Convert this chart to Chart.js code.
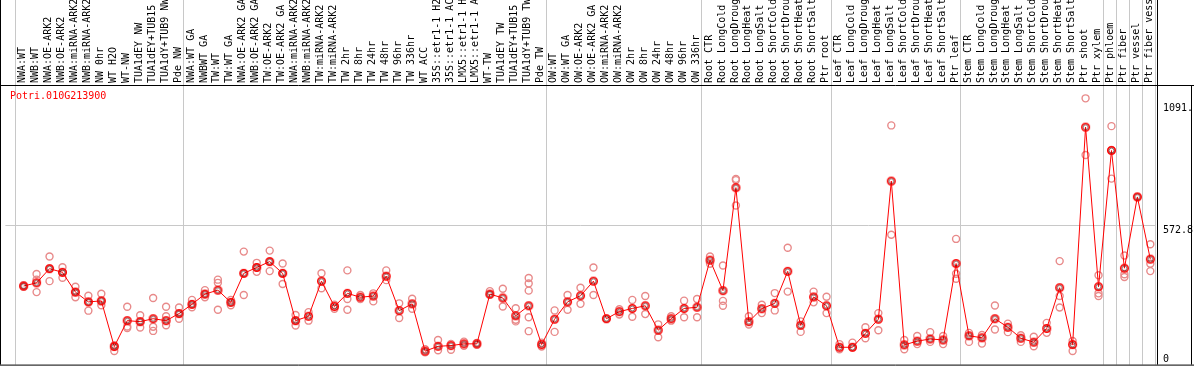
<!DOCTYPE html>
<html>
<head>
<meta charset="utf-8">
<script src="https://cdn.jsdelivr.net/npm/chart.js@4.4.0/dist/chart.umd.min.js"></script>
<style>
  html, body { margin: 0; padding: 0; background: #fff; }
</style>
</head>
<body>
<canvas id="exprChart" width="1194" height="370"></canvas>
<script>
const geneName = "Potri.010G213900";

const categories = [
  "NWA:WT", "NWB:WT", "NWA:OE-ARK2", "NWB:OE-ARK2", "NWA:miRNA-ARK2", "NWB:miRNA-ARK2",
  "NW 0hr", "WT H2O", "WT-NW", "TUA1dEY NW", "TUA1dEY+TUB15 NW", "TUA1dY+TUB9 NW", "Pde NW",
  "NWA:WT GA", "NWBWT GA", "TW:WT", "TW:WT GA", "NWA:OE-ARK2 GA", "NWB:OE-ARK2 GA",
  "TW:OE-ARK2", "TW:OE-ARK2 GA", "NWA:miRNA-ARK2", "NWB:miRNA-ARK2", "TW:miRNA-ARK2",
  "TW:miRNA-ARK2", "TW 2hr", "TW 8hr", "TW 24hr", "TW 48hr", "TW 96hr", "TW 336hr",
  "WT ACC", "35S::etr1-1 H2O", "35S::etr1-1 ACC", "LMX5::etr1-1 H2O", "LMX5::etr1-1 ACC",
  "WT-TW", "TUA1dEY TW", "TUA1dEY+TUB15 TW", "TUA1dY+TUB9 TW", "Pde TW",
  "OW:WT", "OW:WT GA", "OW:OE-ARK2", "OW:OE-ARK2 GA", "OW:miRNA-ARK2", "OW:miRNA-ARK2",
  "OW 2hr", "OW 8hr", "OW 24hr", "OW 48hr", "OW 96hr", "OW 336hr",
  "Root CTR", "Root LongCold", "Root LongDrought", "Root LongHeat", "Root LongSalt",
  "Root ShortCold", "Root ShortDrought", "Root ShortHeat", "Root ShortSalt", "Ptr root",
  "Leaf CTR", "Leaf LongCold", "Leaf LongDrought", "Leaf LongHeat", "Leaf LongSalt",
  "Leaf ShortCold", "Leaf ShortDrought", "Leaf ShortHeat", "Leaf ShortSalt", "Ptr leaf",
  "Stem CTR", "Stem LongCold", "Stem LongDrought", "Stem LongHeat", "Stem LongSalt",
  "Stem ShortCold", "Stem ShortDrought", "Stem ShortHeat", "Stem ShortSalt", "Ptr shoot",
  "Ptr xylem", "Ptr phloem", "Ptr fiber", "Ptr vessel", "Ptr fiber vessel"
];

// mean expression per sample (red line)
const meanValues = [
  322, 335, 393, 378, 297, 257, 261, 74, 180, 176,
  188, 180, 209, 247, 289, 305, 255, 374, 398, 422,
  374, 180, 198, 342, 238, 292, 276, 281, 362, 221,
  249, 55, 75, 78, 85, 85, 289, 273, 200, 241,
  82, 186, 257, 282, 342, 188, 217, 230, 241, 141,
  188, 230, 235, 428, 303, 725, 176, 229, 251, 382,
  161, 277, 241, 71, 71, 128, 186, 752, 81, 96,
  105, 101, 414, 118, 110, 188, 153, 108, 92, 148,
  315, 82, 973, 319, 877, 395, 687, 432
];

// single replicates per sample (pink circles)
const replicateValues = [
  [325, 319, 321], [371, 348, 297], [443, 393, 342], [399, 356, 378], [319, 276, 297],
  [282, 257, 221], [290, 261, 243], [74, 56, 79], [237, 150, 156], [202, 152, 176],
  [273, 155, 138], [237, 198, 161], [234, 188, 209], [265, 235, 247], [305, 276, 289],
  [348, 335, 225], [265, 243, 255], [463, 285, 374], [417, 380, 398], [467, 383, 422],
  [414, 330, 374], [203, 160, 180], [215, 180], [374, 313], [245, 229],
  [386, 269, 225], [285, 269], [292, 259], [386, 346], [251, 191],
  [270, 229], [63, 50], [101, 59], [85, 61], [94, 77],
  [89, 81], [301, 286], [311, 238], [231, 184, 177], [355, 332, 303, 194, 137],
  [90, 74], [222, 134], [285, 225], [315, 249], [398, 285],
  [188], [227, 205], [265, 196], [281, 207], [165, 112],
  [198, 180], [262, 194], [269, 194], [443, 413], [406, 261, 241],
  [761, 652, 756], [198, 164], [245, 211], [293, 222], [479, 299],
  [177, 134], [299, 255], [278, 211], [84, 63], [90, 71],
  [153, 108], [211, 141], [980, 532], [101, 63], [117, 84],
  [133, 93], [117, 84], [515, 372, 352], [130, 93], [121, 86],
  [242, 144], [168, 133], [120, 93], [114, 75], [171, 130],
  [424, 281, 234], [97, 56], [1091, 859], [366, 292, 281], [977, 762, 879],
  [447, 370, 359], [687], [493, 413, 383]
];

// first sample index of each group (gray separators)
const groupStarts = [0, 13, 41, 53, 63, 73, 84, 85, 86, 87, 88];

const yMax = 1145.6;
const yGridValue = 572.8;
const yTickValues = [1091, 572.8, 0];
const yTickLabels = ["1091.", "572.8", "0"];

const FONT = "10px 'DejaVu Sans Mono', 'Liberation Mono', monospace";

const meanPoints = meanValues.map((v, i) => ({ x: i, y: v }));
const replicatePoints = [];
replicateValues.forEach((reps, i) => {
  reps.forEach((v) => replicatePoints.push({ x: i, y: v }));
});

// red ring with a dark inner ring for the mean markers
function makeMeanMarker() {
  const c = document.createElement("canvas");
  c.width = 11;
  c.height = 11;
  const g = c.getContext("2d");
  g.lineWidth = 1.5;
  g.strokeStyle = "#ff0000";
  g.beginPath();
  g.arc(5.5, 5.5, 3.8, 0, Math.PI * 2);
  g.stroke();
  g.lineWidth = 0.9;
  g.strokeStyle = "rgba(60,0,0,0.7)";
  g.beginPath();
  g.arc(5.5, 5.5, 2.5, 0, Math.PI * 2);
  g.stroke();
  return c;
}

const framePlugin = {
  id: "framePlugin",
  beforeDatasetsDraw(chart) {
    const ctx = chart.ctx;
    const xs = chart.scales.x;
    const ys = chart.scales.y;
    const area = chart.chartArea;
    ctx.save();
    ctx.strokeStyle = "#c8c8c8";
    ctx.lineWidth = 1;
    groupStarts.forEach((k) => {
      const px = Math.round(xs.getPixelForValue(k - 0.66)) + 0.5;
      ctx.beginPath();
      ctx.moveTo(px, 0);
      ctx.lineTo(px, area.bottom);
      ctx.stroke();
    });
    const gy = Math.round(ys.getPixelForValue(yGridValue)) + 0.5;
    ctx.beginPath();
    ctx.moveTo(area.left, gy);
    ctx.lineTo(area.right, gy);
    ctx.stroke();
    ctx.restore();
  },
  afterDraw(chart) {
    const ctx = chart.ctx;
    const xs = chart.scales.x;
    const ys = chart.scales.y;
    const area = chart.chartArea;
    const W = chart.width;
    ctx.save();

    // black frame lines
    ctx.strokeStyle = "#000";
    ctx.lineWidth = 1;
    ctx.beginPath();
    ctx.moveTo(0, area.top + 0.5);
    ctx.lineTo(W, area.top + 0.5);
    ctx.moveTo(0, area.bottom + 0.5);
    ctx.lineTo(W, area.bottom + 0.5);
    ctx.moveTo(0.5, 0);
    ctx.lineTo(0.5, area.bottom);
    ctx.moveTo(Math.round(area.right) + 1.5, 0);
    ctx.lineTo(Math.round(area.right) + 1.5, area.bottom);
    ctx.moveTo(W - 2.5, area.top);
    ctx.lineTo(W - 2.5, area.bottom);
    ctx.stroke();

    // rotated sample names in the header
    ctx.font = FONT;
    ctx.fillStyle = "#000";
    ctx.textAlign = "left";
    ctx.textBaseline = "middle";
    categories.forEach((name, i) => {
      const px = xs.getPixelForValue(i) - 1;
      ctx.save();
      ctx.translate(px, area.top - 2);
      ctx.rotate(-Math.PI / 2);
      ctx.fillText(name, 0, 0);
      ctx.restore();
    });

    // gene name
    ctx.fillStyle = "#ff0000";
    ctx.textBaseline = "top";
    ctx.fillText(geneName, 10, area.top + 6);

    // right axis labels
    ctx.fillStyle = "#000";
    const offsets = [5, 1, -10];
    yTickValues.forEach((v, i) => {
      const py = ys.getPixelForValue(v) + offsets[i];
      ctx.fillText(yTickLabels[i], 1163, py);
    });
    ctx.restore();
  }
};

new Chart(document.getElementById("exprChart"), {
  type: "scatter",
  data: {
    datasets: [
      {
        label: "mean",
        type: "line",
        data: meanPoints,
        borderColor: "#ff0000",
        borderWidth: 1,
        tension: 0,
        fill: false,
        pointStyle: makeMeanMarker(),
        pointRadius: 4,
        order: 0
      },
      {
        label: "replicates",
        data: replicatePoints,
        pointRadius: 3.5,
        pointBorderWidth: 1.4,
        pointBorderColor: "#e88a8a",
        pointBackgroundColor: "rgba(0,0,0,0)",
        showLine: false,
        order: 1
      }
    ]
  },
  options: {
    responsive: false,
    devicePixelRatio: 1,
    animation: false,
    layout: { padding: { left: 1, right: 38, top: 85, bottom: 1 } },
    scales: {
      x: { type: "linear", display: false, min: -18.3 / 13, max: -18.3 / 13 + 1155 / 13 },
      y: { type: "linear", display: false, min: 0, max: yMax }
    },
    plugins: {
      legend: { display: false },
      tooltip: { enabled: false }
    }
  },
  plugins: [framePlugin]
});
</script>
</body>
</html>
